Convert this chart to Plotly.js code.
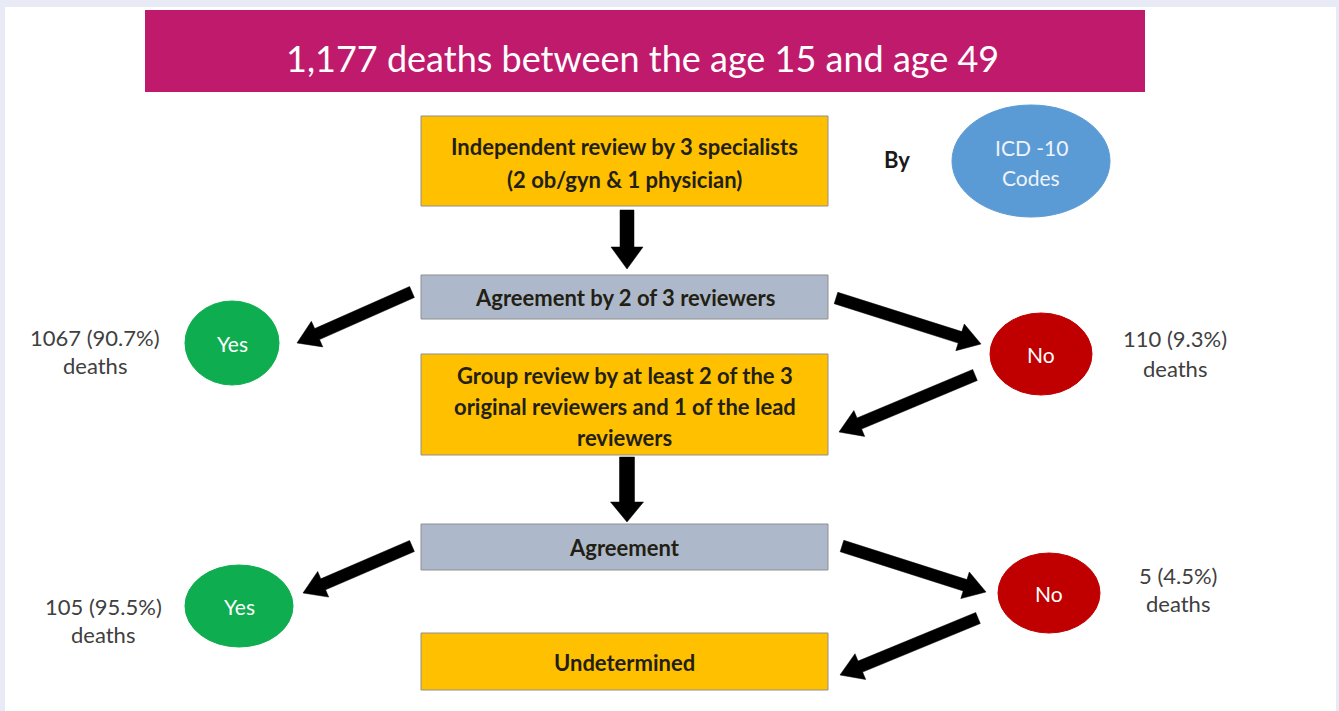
<!DOCTYPE html>
<html>
<head>
<meta charset="utf-8">
<script src="https://cdn.plot.ly/plotly-3.0.1.min.js"></script>
<style>html,body{margin:0;padding:0;background:#e8ebf5;}#chart{width:1339px;height:711px;}</style>
</head>
<body>
<div id="chart"></div>
<script>
// ---- data ----
const totalDeaths = 1177;
const ageRange = [15, 49];
const stageLabels = [
  "Independent review by 3 specialists<br>(2 ob/gyn & 1 physician)",
  "Agreement by 2 of 3 reviewers",
  "Group review by at least 2 of the 3<br>original reviewers and 1 of the lead<br>reviewers",
  "Agreement",
  "Undetermined"
];
const outcomeLabels = ["Yes", "No", "Yes", "No"];
const outcomeDeaths = [1067, 110, 105, 5];
const outcomePercents = [90.7, 9.3, 95.5, 4.5];
const methodLabel = "By";
const codeLabel = "ICD -10<br>Codes";

// ---- layout geometry (pixel space) ----
const FONT = "Lato, 'Open Sans', sans-serif";
const boxGeom = [
  {x0:421, x1:828, y0:116, y1:206, fill:"#ffc000", lines:[146,179]},
  {x0:421, x1:828, y0:275, y1:319, fill:"#adb9ca", lines:[297]},
  {x0:421, x1:828, y0:354, y1:455, fill:"#ffc000", lines:[375,406,437]},
  {x0:421, x1:828, y0:524, y1:570, fill:"#adb9ca", lines:[547]},
  {x0:421, x1:828, y0:633, y1:690, fill:"#ffc000", lines:[662]}
];
const outcomeGeom = [
  {cx:232, cy:343, rx:47, ry:42, fill:"#0ead4f", tx:95,  ty:[337,365]},
  {cx:1041, cy:354, rx:51, ry:41, fill:"#c00000", tx:1175, ty:[338,368]},
  {cx:239, cy:606, rx:54, ry:41, fill:"#0ead4f", tx:103, ty:[606,634]},
  {cx:1049, cy:593, rx:51, ry:40, fill:"#c00000", tx:1178, ty:[575,603]}
];
const arrowGeom = [
  {from:[627,210], to:[627,269], sw:14, hw:32, hl:22},
  {from:[412,292], to:[297,343], sw:12, hw:28, hl:22},
  {from:[836,298], to:[981,344], sw:12, hw:28, hl:22},
  {from:[975,375], to:[839,432], sw:12, hw:28, hl:22},
  {from:[627,457], to:[627,522], sw:15, hw:33, hl:20},
  {from:[412,546], to:[303,593], sw:12, hw:28, hl:22},
  {from:[842,546], to:[986,592], sw:12, hw:28, hl:22},
  {from:[978,618], to:[840,675], sw:12, hw:28, hl:22}
];

function arrowPath(a){
  const [x0,y0] = a.from, [x1,y1] = a.to;
  const dx = x1-x0, dy = y1-y0, L = Math.hypot(dx,dy);
  const ux = dx/L, uy = dy/L, px = -uy, py = ux;
  const bx = x1-ux*a.hl, by = y1-uy*a.hl;
  const s = a.sw/2, h = a.hw/2;
  const pts = [
    [x0+px*s, y0+py*s], [bx+px*s, by+py*s], [bx+px*h, by+py*h], [x1,y1],
    [bx-px*h, by-py*h], [bx-px*s, by-py*s], [x0-px*s, y0-py*s]
  ];
  return "M" + pts.map(p => p[0].toFixed(1)+","+p[1].toFixed(1)).join("L") + "Z";
}

const shapes = [];
const annotations = [];

// white slide area
shapes.push({type:"rect", xref:"x", yref:"y", x0:5, x1:1336, y0:7, y1:711,
  fillcolor:"#ffffff", line:{width:0}, layer:"below"});
// title banner
shapes.push({type:"rect", xref:"x", yref:"y", x0:145, x1:1145, y0:10, y1:92,
  fillcolor:"#bf1a6b", line:{width:0}, layer:"below"});
annotations.push({xref:"x", yref:"y", x:642, y:58, showarrow:false,
  text:totalDeaths.toLocaleString("en-US") + " deaths between the age " + ageRange[0] + " and age " + ageRange[1],
  font:{family:FONT, size:36, color:"#ffffff"}});

// stage boxes
stageLabels.forEach((lab, i) => {
  const g = boxGeom[i];
  shapes.push({type:"rect", xref:"x", yref:"y", x0:g.x0, x1:g.x1, y0:g.y0, y1:g.y1,
    fillcolor:g.fill, line:{color:"#8f8f8f", width:1}, layer:"below"});
  lab.split("<br>").forEach((ln, j) => {
    annotations.push({xref:"x", yref:"y", x:(g.x0+g.x1)/2, y:g.lines[j], showarrow:false,
      text:"<b>"+ln+"</b>", font:{family:FONT, size:22, color:"#231f14"}});
  });
});

// outcome ellipses and counts
outcomeLabels.forEach((lab, i) => {
  const g = outcomeGeom[i];
  shapes.push({type:"circle", xref:"x", yref:"y", x0:g.cx-g.rx, x1:g.cx+g.rx, y0:g.cy-g.ry, y1:g.cy+g.ry,
    fillcolor:g.fill, line:{color:g.fill, width:1}, layer:"below"});
  annotations.push({xref:"x", yref:"y", x:g.cx, y:g.cy, showarrow:false,
    text:lab, font:{family:FONT, size:21, color:"#ffffff"}});
  annotations.push({xref:"x", yref:"y", x:g.tx, y:g.ty[0], showarrow:false,
    text:outcomeDeaths[i] + " (" + outcomePercents[i].toFixed(1) + "%)", font:{family:FONT, size:22, color:"#404040"}});
  annotations.push({xref:"x", yref:"y", x:g.tx, y:g.ty[1], showarrow:false,
    text:"deaths", font:{family:FONT, size:22, color:"#404040"}});
});

// "By" + ICD ellipse
annotations.push({xref:"x", yref:"y", x:897, y:159, showarrow:false,
  text:"<b>"+methodLabel+"</b>", font:{family:FONT, size:22, color:"#1a1a1a"}});
shapes.push({type:"circle", xref:"x", yref:"y", x0:952, x1:1110, y0:105, y1:217,
  fillcolor:"#5b9bd5", line:{color:"#5b9bd5", width:1}, layer:"below"});
codeLabel.split("<br>").forEach((ln, j) => {
  annotations.push({xref:"x", yref:"y", x:1031, y:[147,177][j], showarrow:false,
    text:ln, font:{family:FONT, size:21, color:"#eef3fb"}});
});

// connectors
arrowGeom.forEach(a => {
  shapes.push({type:"path", xref:"x", yref:"y", path:arrowPath(a),
    fillcolor:"#000000", line:{color:"#000000", width:0.5}});
});

const layout = {
  width:1339, height:711,
  margin:{l:0, r:0, t:0, b:0},
  paper_bgcolor:"#e8ebf5", plot_bgcolor:"rgba(0,0,0,0)",
  xaxis:{range:[0,1339], visible:false, fixedrange:true},
  yaxis:{range:[711,0], visible:false, fixedrange:true},
  showlegend:false,
  shapes:shapes,
  annotations:annotations
};
Plotly.newPlot("chart", [{x:[], y:[], type:"scatter", mode:"markers", hoverinfo:"skip"}], layout, {staticPlot:true, displayModeBar:false});
</script>
</body>
</html>
